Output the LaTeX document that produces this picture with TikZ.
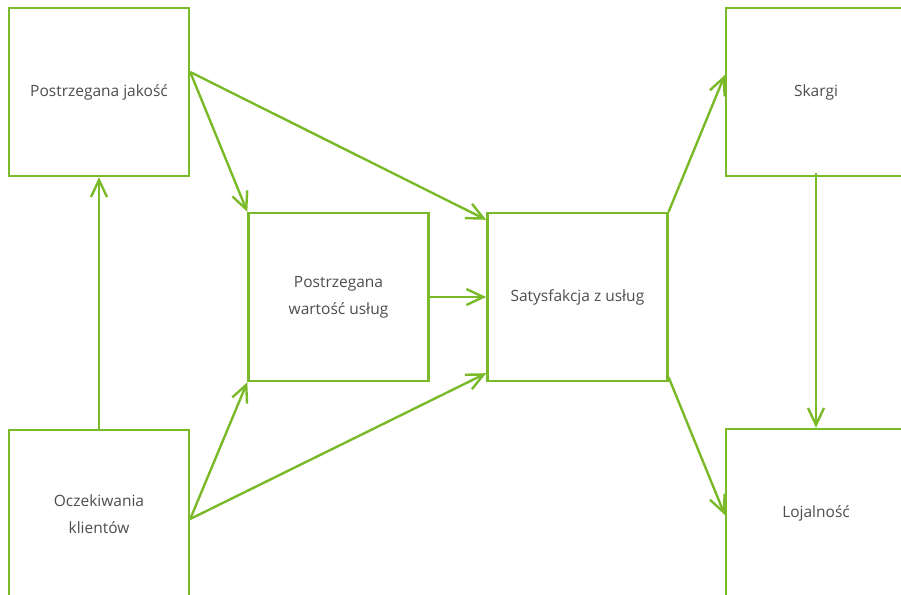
\documentclass[tikz,border=0pt]{standalone}
\usepackage{fontspec}
\setmainfont{Open Sans}
\usetikzlibrary{positioning,arrows.meta}

\definecolor{ramka}{RGB}{122,186,41}
\definecolor{napis}{RGB}{77,77,77}

\begin{document}
\begin{tikzpicture}[x=1pt, y=-1pt, node distance={56.5pt},
	main/.style = {draw=ramka, line width=2.4pt, minimum width=180pt, minimum height=168pt,
		inner sep=0pt, align=center, text=napis, font=\fontsize{15.5}{27}\selectfont},
	strzalka/.style = {draw=ramka, line width=2.4pt, -{Straight Barb[length=17pt, width=16pt, line width=2.4pt]}}]
	\useasboundingbox (0,0) rectangle (901,594);
	\node[main] (jak) at (99,92) {Postrzegana jakość};
	\node[main] (ocz) at (99,514) {Oczekiwania\\klientów};
	\node[main] (wart) at (338.5,297) {Postrzegana\\wartość usług};
	\node[main] (sat) [right=of wart] {Satysfakcja z usług};
	\node[main] (skargi) at (816,92) {Skargi};
	\node[main] (loj) at (816,513) {Lojalność};
	\draw[strzalka] (ocz.north) -- (jak.south);
	\draw[strzalka] ([yshift=20pt]jak.east) -- (wart.north west);
	\draw[strzalka] ([yshift=20pt]jak.east) -- ([yshift=-8pt]sat.north west);
	\draw[strzalka] ([yshift=-5pt]ocz.east) -- (wart.south west);
	\draw[strzalka] ([yshift=-5pt]ocz.east) -- ([yshift=9pt]sat.south west);
	\draw[strzalka] (wart.east) -- (sat.west);
	\draw[strzalka] (sat.north east) -- ([yshift=17pt]skargi.west);
	\draw[strzalka] ([yshift=5pt]sat.south east) -- ([yshift=-2pt]loj.west);
	\draw[strzalka] ([yshift=4pt]skargi.south) -- (loj.north);
\end{tikzpicture}
\end{document}
